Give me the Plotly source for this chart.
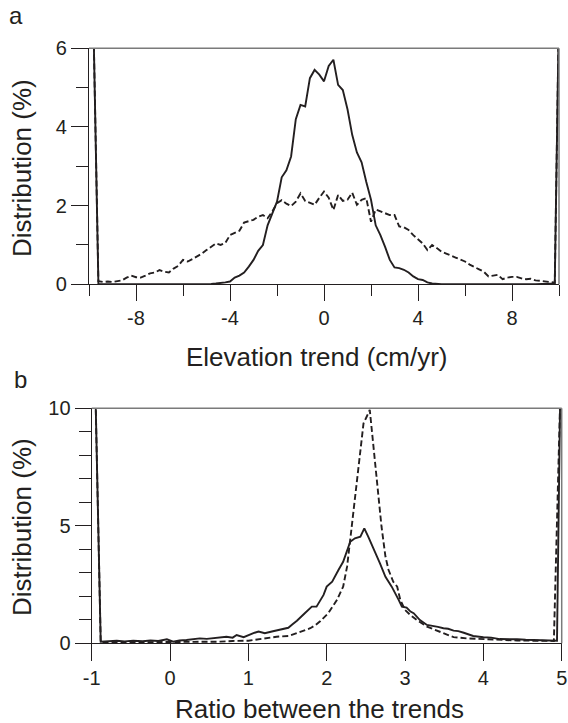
import plotly.graph_objects as go

W, H = 568, 723

# ---------------- Panel a data: elevation trend (cm/yr) vs distribution (%) ----------------
solid_a_x = [-9.8, -9.6, -9.0, -8.0, -7.0, -6.0, -5.0, -4.8, -4.6, -4.4, -4.2, -4.0, -3.8, -3.6,
             -3.4, -3.2, -3.0, -2.8, -2.6, -2.4, -2.2, -2.0, -1.8, -1.6, -1.4, -1.2, -1.0, -0.8,
             -0.6, -0.4, -0.2, 0.0, 0.2, 0.4, 0.6, 0.8, 1.0, 1.2, 1.4, 1.6, 1.8, 2.0, 2.2, 2.4,
             2.6, 2.8, 3.0, 3.2, 3.4, 3.6, 3.8, 4.0, 4.2, 4.4, 4.6, 4.8, 5.0, 6.0, 7.0, 8.0, 9.0,
             9.82, 9.98]
solid_a_y = [6.3, 0.0, 0.0, 0.0, 0.0, 0.0, 0.0, 0.01, 0.02, 0.03, 0.05, 0.07, 0.17, 0.22,
             0.30, 0.45, 0.62, 0.85, 1.0, 1.5, 1.78, 2.1, 2.72, 2.9, 3.25, 4.2, 4.56, 4.52,
             5.24, 5.45, 5.33, 5.16, 5.55, 5.71, 5.07, 4.94, 4.45, 3.8, 3.35, 3.1, 2.6, 2.15, 1.5, 1.25,
             0.95, 0.62, 0.43, 0.41, 0.37, 0.30, 0.20, 0.13, 0.11, 0.05, 0.02, 0.01, 0.0, 0.0, 0.0, 0.0, 0.0,
             0.02, 6.3]

dash_a_x = [-9.8, -9.6, -9.4, -9.2, -9.0, -8.8, -8.6, -8.4, -8.2, -8.0, -7.8, -7.6, -7.4, -7.2,
            -7.0, -6.8, -6.6, -6.4, -6.2, -6.0, -5.8, -5.6, -5.4, -5.2, -5.0, -4.8, -4.6, -4.4,
            -4.2, -4.0, -3.8, -3.6, -3.4, -3.2, -3.0, -2.8, -2.6, -2.4, -2.2, -2.0, -1.8, -1.6,
            -1.4, -1.2, -1.0, -0.8, -0.6, -0.4, -0.2, 0.0, 0.2, 0.4, 0.6, 0.8, 1.0, 1.2, 1.4,
            1.6, 1.8, 2.0, 2.2, 2.4, 2.6, 2.8, 3.0, 3.2, 3.4, 3.6, 3.8, 4.0, 4.2, 4.4, 4.6, 4.8,
            5.0, 5.2, 5.4, 5.6, 5.8, 6.0, 6.2, 6.4, 6.6, 6.8, 7.0, 7.2, 7.4, 7.6, 7.8, 8.0, 8.2,
            8.4, 8.6, 8.8, 9.0, 9.2, 9.4, 9.6, 9.82, 9.98]
dash_a_y = [6.3, 0.08, 0.06, 0.07, 0.06, 0.08, 0.10, 0.17, 0.22, 0.18, 0.17, 0.22, 0.28, 0.30,
            0.36, 0.32, 0.30, 0.40, 0.47, 0.62, 0.58, 0.64, 0.70, 0.78, 0.87, 0.95, 1.04, 1.0,
            1.05, 1.25, 1.30, 1.36, 1.57, 1.60, 1.64, 1.72, 1.76, 1.68, 1.85, 2.06, 2.14, 2.05,
            1.99, 2.10, 2.31, 2.12, 2.08, 2.02, 2.20, 2.36, 2.20, 1.89, 2.27, 2.12, 2.15, 2.33, 2.02,
            2.15, 2.19, 1.59, 1.90, 1.85, 1.82, 1.76, 1.76, 1.47, 1.45, 1.38, 1.25, 1.15, 1.04, 0.87, 1.0, 0.92,
            0.83, 0.78, 0.72, 0.68, 0.63, 0.58, 0.50, 0.45, 0.38, 0.32, 0.20, 0.22, 0.24, 0.13, 0.17, 0.19, 0.19,
            0.15, 0.13, 0.14, 0.10, 0.09, 0.07, 0.05, 0.04, 6.3]

# ---------------- Panel b data: ratio between the trends vs distribution (%) ----------------
solid_b_x = [-0.95, -0.885, -0.78, -0.68, -0.58, -0.47, -0.35, -0.25, -0.15, -0.04, 0.04, 0.12,
             0.21, 0.30, 0.38, 0.47, 0.55, 0.64, 0.72, 0.80, 0.85, 0.94, 1.02, 1.08, 1.13, 1.21,
             1.30, 1.40, 1.51, 1.56, 1.62, 1.72, 1.81, 1.87, 1.96, 2.00, 2.07, 2.15, 2.21, 2.30,
             2.36, 2.43, 2.48, 2.53, 2.62, 2.68, 2.75, 2.83, 2.92, 2.96, 3.02, 3.07, 3.11, 3.19,
             3.28, 3.36, 3.42, 3.49, 3.55, 3.62, 3.68, 3.75, 3.87, 4.00, 4.10, 4.21, 4.32, 4.43,
             4.54, 4.64, 4.75, 4.85, 4.94, 4.98]
solid_b_y = [10.3, 0.07, 0.09, 0.11, 0.08, 0.11, 0.09, 0.12, 0.10, 0.17, 0.07, 0.12,
             0.14, 0.17, 0.21, 0.19, 0.21, 0.25, 0.28, 0.24, 0.35, 0.26, 0.38, 0.45, 0.50, 0.43,
             0.50, 0.57, 0.66, 0.80, 0.96, 1.28, 1.56, 1.56, 2.06, 2.41, 2.62, 3.12, 3.47, 4.32,
             4.47, 4.54, 4.89, 4.54, 3.90, 3.40, 2.83, 2.41, 1.84, 1.56, 1.52, 1.35, 1.28, 0.99,
             0.78, 0.74, 0.70, 0.64, 0.62, 0.54, 0.52, 0.45, 0.31, 0.26, 0.24, 0.18, 0.19, 0.17,
             0.15, 0.14, 0.13, 0.11, 0.11, 10.3]

dash_b_x = [-0.95, -0.885, -0.6, -0.3, 0.0, 0.3, 0.64, 0.80, 1.0, 1.19, 1.36, 1.51, 1.66, 1.79,
            1.86, 1.92, 2.02, 2.13, 2.21, 2.26, 2.30, 2.34, 2.38, 2.43, 2.47, 2.51, 2.55, 2.58,
            2.62, 2.66, 2.70, 2.75, 2.79, 2.85, 2.90, 2.94, 3.00, 3.07, 3.15, 3.28, 3.45, 3.62,
            3.79, 4.00, 4.21, 4.43, 4.64, 4.90, 4.98]
dash_b_y = [10.3, 0.04, 0.04, 0.05, 0.06, 0.04, 0.07, 0.10, 0.11, 0.20, 0.28, 0.31, 0.49, 0.64,
            0.78, 0.95, 1.28, 1.84, 2.41, 3.26, 4.40, 5.53, 6.81, 8.09, 9.36, 9.64, 9.93, 8.94,
            7.51, 6.10, 4.96, 3.69, 3.12, 2.62, 2.41, 1.84, 1.42, 1.20, 0.99, 0.71, 0.49, 0.26,
            0.21, 0.17, 0.14, 0.12, 0.11, 0.10, 10.3]

# tick labels
a_xticks = [-8, -4, 0, 4, 8]
a_xminor = [-10, -6, -2, 2, 6, 10]
a_yticks = [0, 2, 4, 6]
a_yminor = [1, 3, 5]
b_xticks = [-1, 0, 1, 2, 3, 4, 5]
b_yticks = [0, 5, 10]
b_yminor = [1, 2, 3, 4, 6, 7, 8, 9]

assert len(solid_a_x) == len(solid_a_y)
assert len(dash_a_x) == len(dash_a_y)
assert len(solid_b_x) == len(solid_b_y)
assert len(dash_b_x) == len(dash_b_y)

FONT = "Liberation Sans, Arial, sans-serif"
INK = "#231f20"
FRAME = "#7a7a7a"


def px(x):
    return x / W


def py(y):
    return 1 - y / H


fig = go.Figure()
line_solid = dict(color=INK, width=1.9)
line_dash = dict(color=INK, width=1.9, dash="6px,3px")

fig.add_trace(go.Scatter(x=dash_a_x, y=dash_a_y, mode="lines", line=line_dash, xaxis="x", yaxis="y"))
fig.add_trace(go.Scatter(x=solid_a_x, y=solid_a_y, mode="lines", line=line_solid, xaxis="x", yaxis="y"))
fig.add_trace(go.Scatter(x=dash_b_x, y=dash_b_y, mode="lines", line=line_dash, xaxis="x2", yaxis="y2"))
fig.add_trace(go.Scatter(x=solid_b_x, y=solid_b_y, mode="lines", line=line_solid, xaxis="x2", yaxis="y2"))


def ticktxt(vals):
    return [str(v) for v in vals]


common = dict(showgrid=False, zeroline=False, showline=True, linecolor=INK, linewidth=1.3,
              ticks="outside", tickcolor=INK, tickwidth=1.3, automargin=False,
              tickfont=dict(family=FONT, size=20, color=INK), fixedrange=True)

fig.update_layout(
    template="none",
    width=W, height=H, margin=dict(l=0, r=0, t=0, b=0, pad=0, autoexpand=False),
    paper_bgcolor="white", plot_bgcolor="white", showlegend=False,
    font=dict(family=FONT, color=INK),
    xaxis=dict(domain=[px(89), px(559)], range=[-10, 10], anchor="y",
               tickmode="array", tickvals=a_xticks, ticktext=ticktxt(a_xticks), ticklen=16,
               minor=dict(tickmode="array", tickvals=a_xminor, ticklen=11, ticks="outside",
                          tickcolor=INK, tickwidth=1.3),
               **common),
    yaxis=dict(domain=[py(284.3), py(48.3)], range=[0, 6], anchor="x",
               tickmode="array", tickvals=a_yticks, ticktext=ticktxt(a_yticks), ticklen=17,
               minor=dict(tickmode="array", tickvals=a_yminor, ticklen=12, ticks="outside",
                          tickcolor=INK, tickwidth=1.3),
               **common),
    xaxis2=dict(domain=[px(91.7), px(561.7)], range=[-1, 5], anchor="y2",
                tickmode="array", tickvals=b_xticks, ticktext=ticktxt(b_xticks), ticklen=17,
                **common),
    yaxis2=dict(domain=[py(643.3), py(408.3)], range=[0, 10], anchor="x2",
                tickmode="array", tickvals=b_yticks, ticktext=ticktxt(b_yticks), ticklen=16,
                minor=dict(tickmode="array", tickvals=b_yminor, ticklen=12, ticks="outside",
                           tickcolor=INK, tickwidth=1.3),
                **common),
)

# gray top/right frame lines
for xr, yr in (("x", "y"), ("x2", "y2")):
    fig.add_shape(type="line", xref=f"{xr} domain", yref=f"{yr} domain", x0=0, x1=1, y0=1, y1=1,
                  line=dict(color=FRAME, width=1.5))
    fig.add_shape(type="line", xref=f"{xr} domain", yref=f"{yr} domain", x0=1, x1=1, y0=0, y1=1,
                  line=dict(color=FRAME, width=1.5))

ann = []


def label(text, x, y, size, angle=0):
    ann.append(dict(text=text, x=px(x), y=py(y), xref="paper", yref="paper", showarrow=False,
                    xanchor="center", yanchor="middle", textangle=angle,
                    font=dict(family=FONT, size=size, color=INK)))


label("a", 16, 15, 24)
label("b", 20, 379, 24)
label("Elevation trend (cm/yr)", 317, 357, 26)
label("Ratio between the trends", 319, 709, 26)
label("Distribution (%)", 22, 168, 26, -90)
label("Distribution (%)", 22, 527, 26, -90)
fig.update_layout(annotations=ann)

fig.write_html("out.html", config={"displayModeBar": False},
               post_script="document.body.style.margin='0';document.body.style.overflow='hidden';")
